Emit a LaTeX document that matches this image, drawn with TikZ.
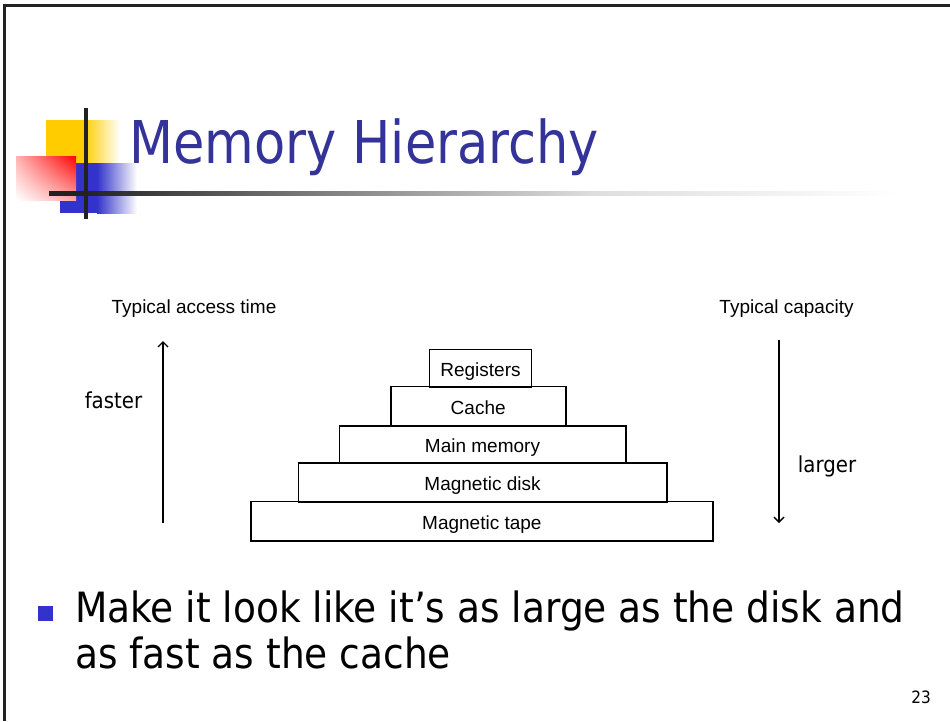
\documentclass[tikz,border=0pt]{standalone}
\usepackage{fontspec}
\setmainfont{Liberation Sans}
\newfontfamily\slidefont{DejaVu Sans Condensed}
\newfontfamily\titlefont[FakeStretch=0.96]{DejaVu Sans Condensed}
\usetikzlibrary{arrows.meta,shadings}
\definecolor{titleblue}{HTML}{333399}
\definecolor{bulletblue}{HTML}{3333CC}
\definecolor{logoyellow}{HTML}{FFCC00}
\definecolor{logoblue}{HTML}{3333CC}
\definecolor{rulegray}{HTML}{222222}
% only the 25bp--75bp band of a shading is stretched over the path
\pgfdeclarehorizontalshading{titlerule}{100bp}{color(0bp)=(rulegray); color(27bp)=(rulegray); color(40bp)=(black!53); color(57bp)=(black!13); color(75bp)=(white); color(100bp)=(white)}

\tikzset{
  level/.style={draw, line width=1.6pt, inner sep=0pt, text height=16pt, text depth=0pt,
                font=\fontsize{19}{19}\selectfont},
  axislabel/.style={anchor=base, inner sep=0pt, font=\fontsize{19}{19}\selectfont},
  sidelabel/.style={anchor=base, inner sep=0pt, font=\slidefont\fontsize{22}{22}\selectfont},
  trend/.style={line width=1.4pt, -{Straight Barb[length=5pt,width=10pt,line width=1.4pt]}},
  bodytext/.style={anchor=base west, inner sep=0pt, font=\slidefont\fontsize{41.7}{41.7}\selectfont}
}

\begin{document}
\begin{tikzpicture}[x=1pt,y=-1pt]
\useasboundingbox (0,0) rectangle (950,721);

% slide frame
\draw[line width=3pt, rulegray] (4.5,721) -- (4.5,5) -- (950,5);

% corner logo
\fill[logoyellow] (46,120) rectangle (84,163);
\shade[left color=logoyellow, right color=white] (84,120) rectangle (120,163);
\fill[logoblue] (60,163) rectangle (97,213);
\shade[left color=logoblue, right color=white] (97,163) rectangle (137,213);
\shade[upper right=red, upper left=red!30, lower right=red!35, lower left=white] (16,156) rectangle (76,200);
\shade[shading=titlerule] (49,191) rectangle (900,195);
\fill[rulegray] (83.5,108) rectangle (87.5,219);

% title
\node[anchor=base west, inner sep=0pt, text=titleblue, font=\titlefont\fontsize{59}{59}\selectfont] (title) at (129,163) {Memory Hierarchy};

% pyramid of levels
\node[level, minimum width=102pt, minimum height=37.4pt] (reg)  at (480.5,368)   {Registers};
\node[level, minimum width=175pt, minimum height=39.3pt] (cache) at (478.2,406.3) {Cache};
\node[level, minimum width=286.4pt, minimum height=36.7pt] (main) at (482.5,444.3) {Main memory};
\node[level, minimum width=368.4pt, minimum height=39pt] (disk) at (482.5,482.2) {Magnetic disk};
\node[level, minimum width=461.7pt, minimum height=39.3pt] (tape) at (481.9,521.3) {Magnetic tape};

% axis captions
\node[axislabel] (acc) at (194,313) {Typical access time};
\node[axislabel] (capa) at (786.5,313) {Typical capacity};

% trend arrows
\coordinate (fastlow) at (163,523);
\coordinate (fasthigh) at (163,341);
\coordinate (largetop) at (779,340);
\coordinate (largelow) at (779,523);
\draw[trend] (fastlow) -- (fasthigh);
\draw[trend] (largetop) -- (largelow);
\node[sidelabel] (faster) at (113.5,408.5) {faster};
\node[sidelabel] (larger) at (827,472.5) {larger};

% bullet point
\fill[bulletblue] (38,606) rectangle (53,621);
\node[bodytext] (line1) at (75,622.7) {Make it look like it’s as large as the disk and};
\node[bodytext] (line2) at (75,668) {as fast as the cache};

% slide number
\node[anchor=base east, inner sep=0pt, font=\slidefont\fontsize{17}{17}\selectfont] (num) at (931,703) {23};
\end{tikzpicture}
\end{document}
